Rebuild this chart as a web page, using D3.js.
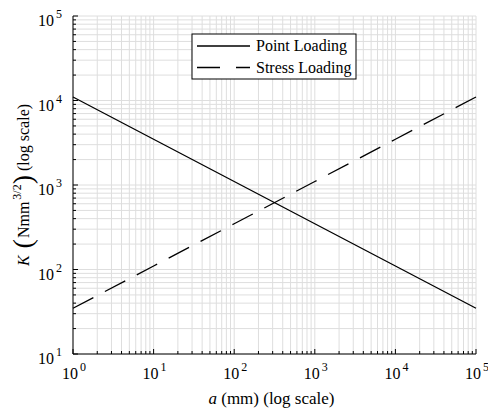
<!DOCTYPE html>
<html>
<head>
<meta charset="utf-8">
<script src="https://cdn.jsdelivr.net/npm/d3@7"></script>
<style>
  body { margin: 0; background: #fff; }
  text { font-family: "Liberation Serif", "Times New Roman", serif; fill: #000; }
</style>
</head>
<body>
<div id="chart"></div>
<script>
// values
const crack_length = [1, 10, 100, 1000, 10000, 100000];
const point_loading = [11000, 3480, 1100, 348, 110, 34.8];
const stress_loading = [34.8, 110, 348, 1100, 3480, 11000];
const x_decades = [0, 1, 2, 3, 4, 5];
const y_decades = [1, 2, 3, 4, 5];
const series_names = ["Point Loading", "Stress Loading"];

const width = 488, height = 414;
const margin = {left: 73, right: 12, top: 16, bottom: 60};

const svg = d3.select("#chart").append("svg")
    .attr("width", width).attr("height", height);

const x = d3.scaleLog().domain([1, 1e5]).range([margin.left, width - margin.right]);
const y = d3.scaleLog().domain([10, 1e5]).range([height - margin.bottom, margin.top]);

// all ticks on the log axes (major + minor)
const logTicks = (lo, hi) => {
    const out = [];
    for (let e = lo; e < hi; e++) {
        for (let m = 1; m < 10; m++) out.push(m * Math.pow(10, e));
    }
    out.push(Math.pow(10, hi));
    return out;
};
const xt = logTicks(0, 5);
const yt = logTicks(1, 5);
const isMajor = v => Math.abs(Math.log10(v) - Math.round(Math.log10(v))) < 1e-9;

// grid
const grid = svg.append("g").attr("stroke", "#dedede").attr("stroke-width", 1);
grid.selectAll(".gx").data(xt).enter().append("line")
    .attr("x1", d => x(d)).attr("x2", d => x(d))
    .attr("y1", y.range()[0]).attr("y2", y.range()[1]);
grid.selectAll(".gy").data(yt).enter().append("line")
    .attr("y1", d => y(d)).attr("y2", d => y(d))
    .attr("x1", x.range()[0]).attr("x2", x.range()[1]);

// series
const line = vals => d3.line()
    .x((d, i) => x(crack_length[i]))
    .y(d => y(d))(vals);

svg.append("path").attr("d", line(point_loading))
    .attr("fill", "none").attr("stroke", "#000").attr("stroke-width", 1.3);
svg.append("path").attr("d", line(stress_loading))
    .attr("fill", "none").attr("stroke", "#000").attr("stroke-width", 1.3)
    .attr("stroke-dasharray", "23,13");

// axes (inward ticks, left + bottom only)
const ax = svg.append("g").attr("stroke", "#000").attr("stroke-width", 1);
const y0 = y.range()[0], x0 = x.range()[0];
ax.append("line").attr("x1", x0).attr("x2", x.range()[1]).attr("y1", y0).attr("y2", y0);
ax.append("line").attr("x1", x0).attr("x2", x0).attr("y1", y0).attr("y2", y.range()[1]);
ax.selectAll(".tx").data(xt).enter().append("line")
    .attr("x1", d => x(d)).attr("x2", d => x(d))
    .attr("y1", y0).attr("y2", d => y0 - (isMajor(d) ? 5 : 3));
ax.selectAll(".ty").data(yt).enter().append("line")
    .attr("y1", d => y(d)).attr("y2", d => y(d))
    .attr("x1", x0).attr("x2", d => x0 + (isMajor(d) ? 5 : 3));

// tick labels 10^n
const powLabel = (sel) => {
    sel.append("tspan").text("10").attr("font-size", 16);
    sel.append("tspan").text(d => d).attr("font-size", 12).attr("dx", 2).attr("dy", -8);
};
svg.selectAll(".xl").data(x_decades).enter().append("text")
    .attr("x", d => x(Math.pow(10, d)) + 1).attr("y", y0 + 25)
    .attr("text-anchor", "middle")
    .call(powLabel);
svg.selectAll(".yl").data(y_decades).enter().append("text")
    .attr("x", x0 - 11).attr("y", d => y(Math.pow(10, d)) + 10)
    .attr("text-anchor", "end")
    .call(powLabel);

// axis titles
const xlab = svg.append("text")
    .attr("x", (x.range()[0] + x.range()[1]) / 2 - 3).attr("y", height - 10)
    .attr("text-anchor", "middle").attr("font-size", 17);
xlab.append("tspan").text("a").attr("font-style", "italic");
xlab.append("tspan").text(" (mm) (log scale)");

const ylab = svg.append("text")
    .attr("transform", `translate(29,${(y.range()[0] + y.range()[1]) / 2}) rotate(-90)`)
    .attr("text-anchor", "middle").attr("font-size", 16);
ylab.append("tspan").text("K").attr("font-style", "italic");
ylab.append("tspan").text(" (").attr("font-size", 28).attr("dy", 3);
ylab.append("tspan").text("Nmm").attr("dy", -3).attr("dx", 1);
ylab.append("tspan").text("3/2").attr("font-size", 12).attr("dx", 2).attr("dy", -8);
ylab.append("tspan").text(")").attr("font-size", 28).attr("dy", 11);
ylab.append("tspan").text(" (log scale)").attr("dy", -3);

// legend
const lg = svg.append("g").attr("transform", "translate(192,34)");
lg.append("rect").attr("width", 164).attr("height", 45)
    .attr("fill", "#fff").attr("stroke", "#000").attr("stroke-width", 1);
const items = lg.selectAll(".item").data(series_names).enter().append("g")
    .attr("transform", (d, i) => `translate(0,${12 + i * 21.5})`);
items.append("line").attr("x1", 5).attr("x2", 58)
    .attr("stroke", "#000").attr("stroke-width", 1.3)
    .attr("stroke-dasharray", (d, i) => i === 1 ? "23,16" : null);
items.append("text").text(d => d).attr("x", 64).attr("y", 5).attr("font-size", 16);
</script>
</body>
</html>
